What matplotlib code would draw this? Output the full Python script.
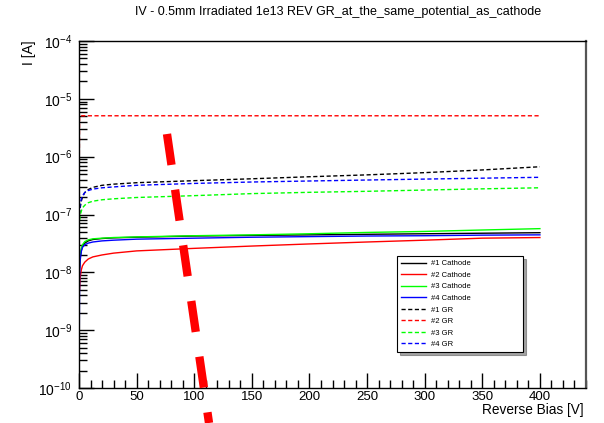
import matplotlib
matplotlib.use("Agg")
import matplotlib.pyplot as plt
from matplotlib.lines import Line2D
from matplotlib.ticker import LogLocator, MultipleLocator, LogFormatterSciNotation
import numpy as np

plt.rcParams['font.family'] = ['Liberation Sans', 'DejaVu Sans']
plt.rcParams['mathtext.fontset'] = 'custom'
plt.rcParams['mathtext.rm'] = 'Liberation Sans'
plt.rcParams['mathtext.it'] = 'Liberation Sans:italic'
plt.rcParams['lines.scale_dashes'] = False

title = "IV - 0.5mm Irradiated 1e13 REV GR_at_the_same_potential_as_cathode"

# Reverse bias [V]
bias = [0.5, 1, 2, 3, 5, 8, 12, 20, 30, 50, 100, 150, 200, 250, 300, 350, 400]

# Cathode currents [A]
cath1 = [1.2e-8, 1.8e-8, 2.4e-8, 2.8e-8, 3.2e-8, 3.5e-8, 3.7e-8, 3.85e-8, 3.95e-8, 4.05e-8,
         4.25e-8, 4.35e-8, 4.45e-8, 4.55e-8, 4.65e-8, 4.75e-8, 4.85e-8]
cath2 = [5.0e-9, 8.0e-9, 1.1e-8, 1.3e-8, 1.5e-8, 1.7e-8, 1.85e-8, 2.0e-8, 2.15e-8, 2.35e-8,
         2.6e-8, 2.85e-8, 3.1e-8, 3.35e-8, 3.6e-8, 3.9e-8, 4.0e-8]
cath3 = [1.3e-8, 2.0e-8, 2.6e-8, 3.0e-8, 3.4e-8, 3.65e-8, 3.8e-8, 3.9e-8, 4.0e-8, 4.1e-8,
         4.3e-8, 4.45e-8, 4.65e-8, 4.9e-8, 5.1e-8, 5.4e-8, 5.7e-8]
cath4_bias = [0] + bias
cath4 = [1e-10, 8.0e-9, 1.6e-8, 2.3e-8, 2.7e-8, 3.0e-8, 3.2e-8, 3.35e-8, 3.5e-8, 3.6e-8, 3.75e-8,
         3.9e-8, 4.05e-8, 4.15e-8, 4.25e-8, 4.3e-8, 4.4e-8, 4.45e-8]

# Guard ring currents [A]
gr1 = [1.0e-7, 1.3e-7, 1.7e-7, 2.0e-7, 2.4e-7, 2.7e-7, 2.95e-7, 3.2e-7, 3.35e-7, 3.55e-7,
       3.85e-7, 4.15e-7, 4.5e-7, 4.85e-7, 5.3e-7, 5.9e-7, 6.7e-7]
gr2_bias = [0] + bias
gr2 = [1.0e-7, 5.0e-6, 5.1e-6, 5.1e-6, 5.1e-6, 5.1e-6, 5.1e-6, 5.1e-6, 5.1e-6, 5.1e-6, 5.1e-6,
       5.1e-6, 5.1e-6, 5.1e-6, 5.1e-6, 5.1e-6, 5.1e-6, 5.1e-6]
gr3 = [8.0e-8, 9.5e-8, 1.15e-7, 1.3e-7, 1.45e-7, 1.6e-7, 1.7e-7, 1.8e-7, 1.87e-7, 1.97e-7,
       2.12e-7, 2.3e-7, 2.42e-7, 2.52e-7, 2.65e-7, 2.78e-7, 2.9e-7]
gr4_bias = [0] + bias
gr4 = [1.0e-7, 1.2e-7, 1.5e-7, 1.85e-7, 2.1e-7, 2.4e-7, 2.6e-7, 2.75e-7, 2.9e-7, 3.0e-7, 3.2e-7,
       3.45e-7, 3.65e-7, 3.8e-7, 3.95e-7, 4.1e-7, 4.25e-7, 4.4e-7]

fig = plt.figure(figsize=(6.04, 4.23), dpi=100)
ax = fig.add_axes([0.1308, 0.0827, 0.8394, 0.8203])

dash = (0, (3.0, 1.8))
ax.plot(bias, cath1, color='black', lw=1.0, label='#1 Cathode')
ax.plot(bias, cath2, color='#ff0000', lw=1.0, label='#2 Cathode')
ax.plot(bias, cath3, color='#00ff00', lw=1.0, label='#3 Cathode')
ax.plot(cath4_bias, cath4, color='#0000ff', lw=1.0, label='#4 Cathode')
ax.plot(bias, gr1, color='black', lw=1.0, ls=dash, label='#1 GR')
ax.plot(gr2_bias, gr2, color='#ff0000', lw=1.0, ls=dash, label='#2 GR')
ax.plot(bias, gr3, color='#00ff00', lw=1.0, ls=dash, label='#3 GR')
ax.plot(gr4_bias, gr4, color='#0000ff', lw=1.0, ls=dash, label='#4 GR')

ax.set_yscale('log')
ax.set_xlim(0, 440)
ax.set_ylim(1e-10, 1e-4)
ax.xaxis.set_major_locator(MultipleLocator(50))
ax.xaxis.set_minor_locator(MultipleLocator(10))
ax.yaxis.set_major_locator(LogLocator(base=10, numticks=10))
ax.yaxis.set_minor_locator(LogLocator(base=10, subs=np.arange(2, 10), numticks=10))
ax.yaxis.set_major_formatter(LogFormatterSciNotation())
ax.tick_params(which='both', direction='in', top=False, right=False)
ax.tick_params(which='major', length=11, width=1)
ax.tick_params(which='minor', length=6, width=1)
ax.tick_params(axis='x', labelsize=9.5, pad=2.5)
ax.tick_params(axis='y', labelsize=10, pad=5)

for s in ['left', 'bottom', 'top']:
    ax.spines[s].set_color('black')
    ax.spines[s].set_linewidth(1.0)
ax.spines['right'].set_color('#555555')
ax.spines['right'].set_linewidth(1.6)

fig.text(0.5596, 0.972, title, ha='center', va='center', fontsize=9)
fig.text(0.048, 0.875, 'I [A]', rotation=90, ha='center', va='center', fontsize=10)
fig.text(0.966, 0.030, 'Reverse Bias [V]', ha='right', va='center', fontsize=9.8)

leg = ax.legend(loc='upper left', bbox_to_anchor=(0.627, 0.127, 0.249, 0.253), mode='expand',
                fontsize=5.5, frameon=True, fancybox=False, shadow=True, edgecolor='black',
                handlelength=3.3, labelspacing=0.55, borderaxespad=0.0, borderpad=0.5,
                handletextpad=0.6)
leg.get_frame().set_linewidth(0.8)

# Thick red dashed marker line across the figure
marker = Line2D([167 / 604, 209 / 604], [1 - 134 / 423, 0.0], transform=fig.transFigure,
                color='#ff0000', lw=6, ls=(0, (22.5, 18.0)), solid_capstyle='butt',
                dash_capstyle='butt', zorder=10)
fig.add_artist(marker)

fig.savefig('out.png', dpi=100)
